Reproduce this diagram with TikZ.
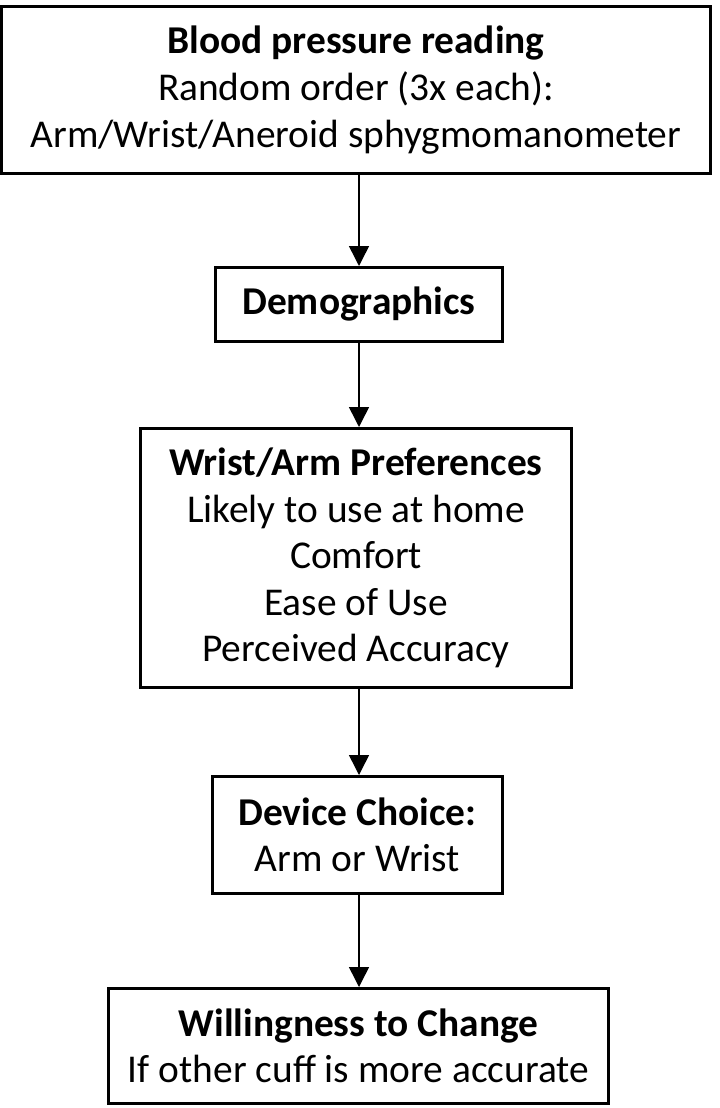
\documentclass[tikz,border=0pt]{standalone}
\usepackage{fontspec}
\setmainfont{Carlito}
\usetikzlibrary{arrows.meta}
\tikzset{
  box/.style={draw, line width=1.5pt, inner sep=0pt, align=center,
    font=\fontsize{19.7pt}{23.3pt}\selectfont},
  flow/.style={line width=0.75pt, -{Triangle[width=10pt,length=10pt]}}
}
\begin{document}
\begin{tikzpicture}[x=0.5pt,y=-0.5pt]
  \useasboundingbox (0,0) rectangle (719,1108);
  \draw
    (356,90) node[box, minimum width=354.5pt, minimum height=83.5pt] (reading)
      {\textbf{Blood pressure reading}\\Random order (3x each):\\Arm/Wrist/Aneroid sphygmomanometer}
    (359,304.5) node[box, minimum width=143.5pt, minimum height=37pt] (demo)
      {\textbf{Demographics}}
    (356,558) node[box, minimum width=215.5pt, minimum height=129.5pt] (prefs)
      {\textbf{Wrist/Arm Preferences}\\Likely to use at home\\Comfort\\Ease of Use\\Perceived Accuracy}
    (357.5,835) node[box, minimum width=145pt, minimum height=58.5pt] (choice)
      {\textbf{Device Choice:}\\Arm or Wrist}
    (358.5,1046) node[box, minimum width=250pt, minimum height=57.5pt] (change)
      {\textbf{Willingness to Change}\\If other cuff is more accurate};
  \begin{scope}[flow]
    \draw (reading.south -| demo) to (demo.north);
    \draw (demo) to (prefs.north -| demo);
    \draw (prefs.south -| demo) to (choice.north -| demo);
    \draw (choice.south -| demo) to (change.north -| demo);
  \end{scope}
\end{tikzpicture}
\end{document}
